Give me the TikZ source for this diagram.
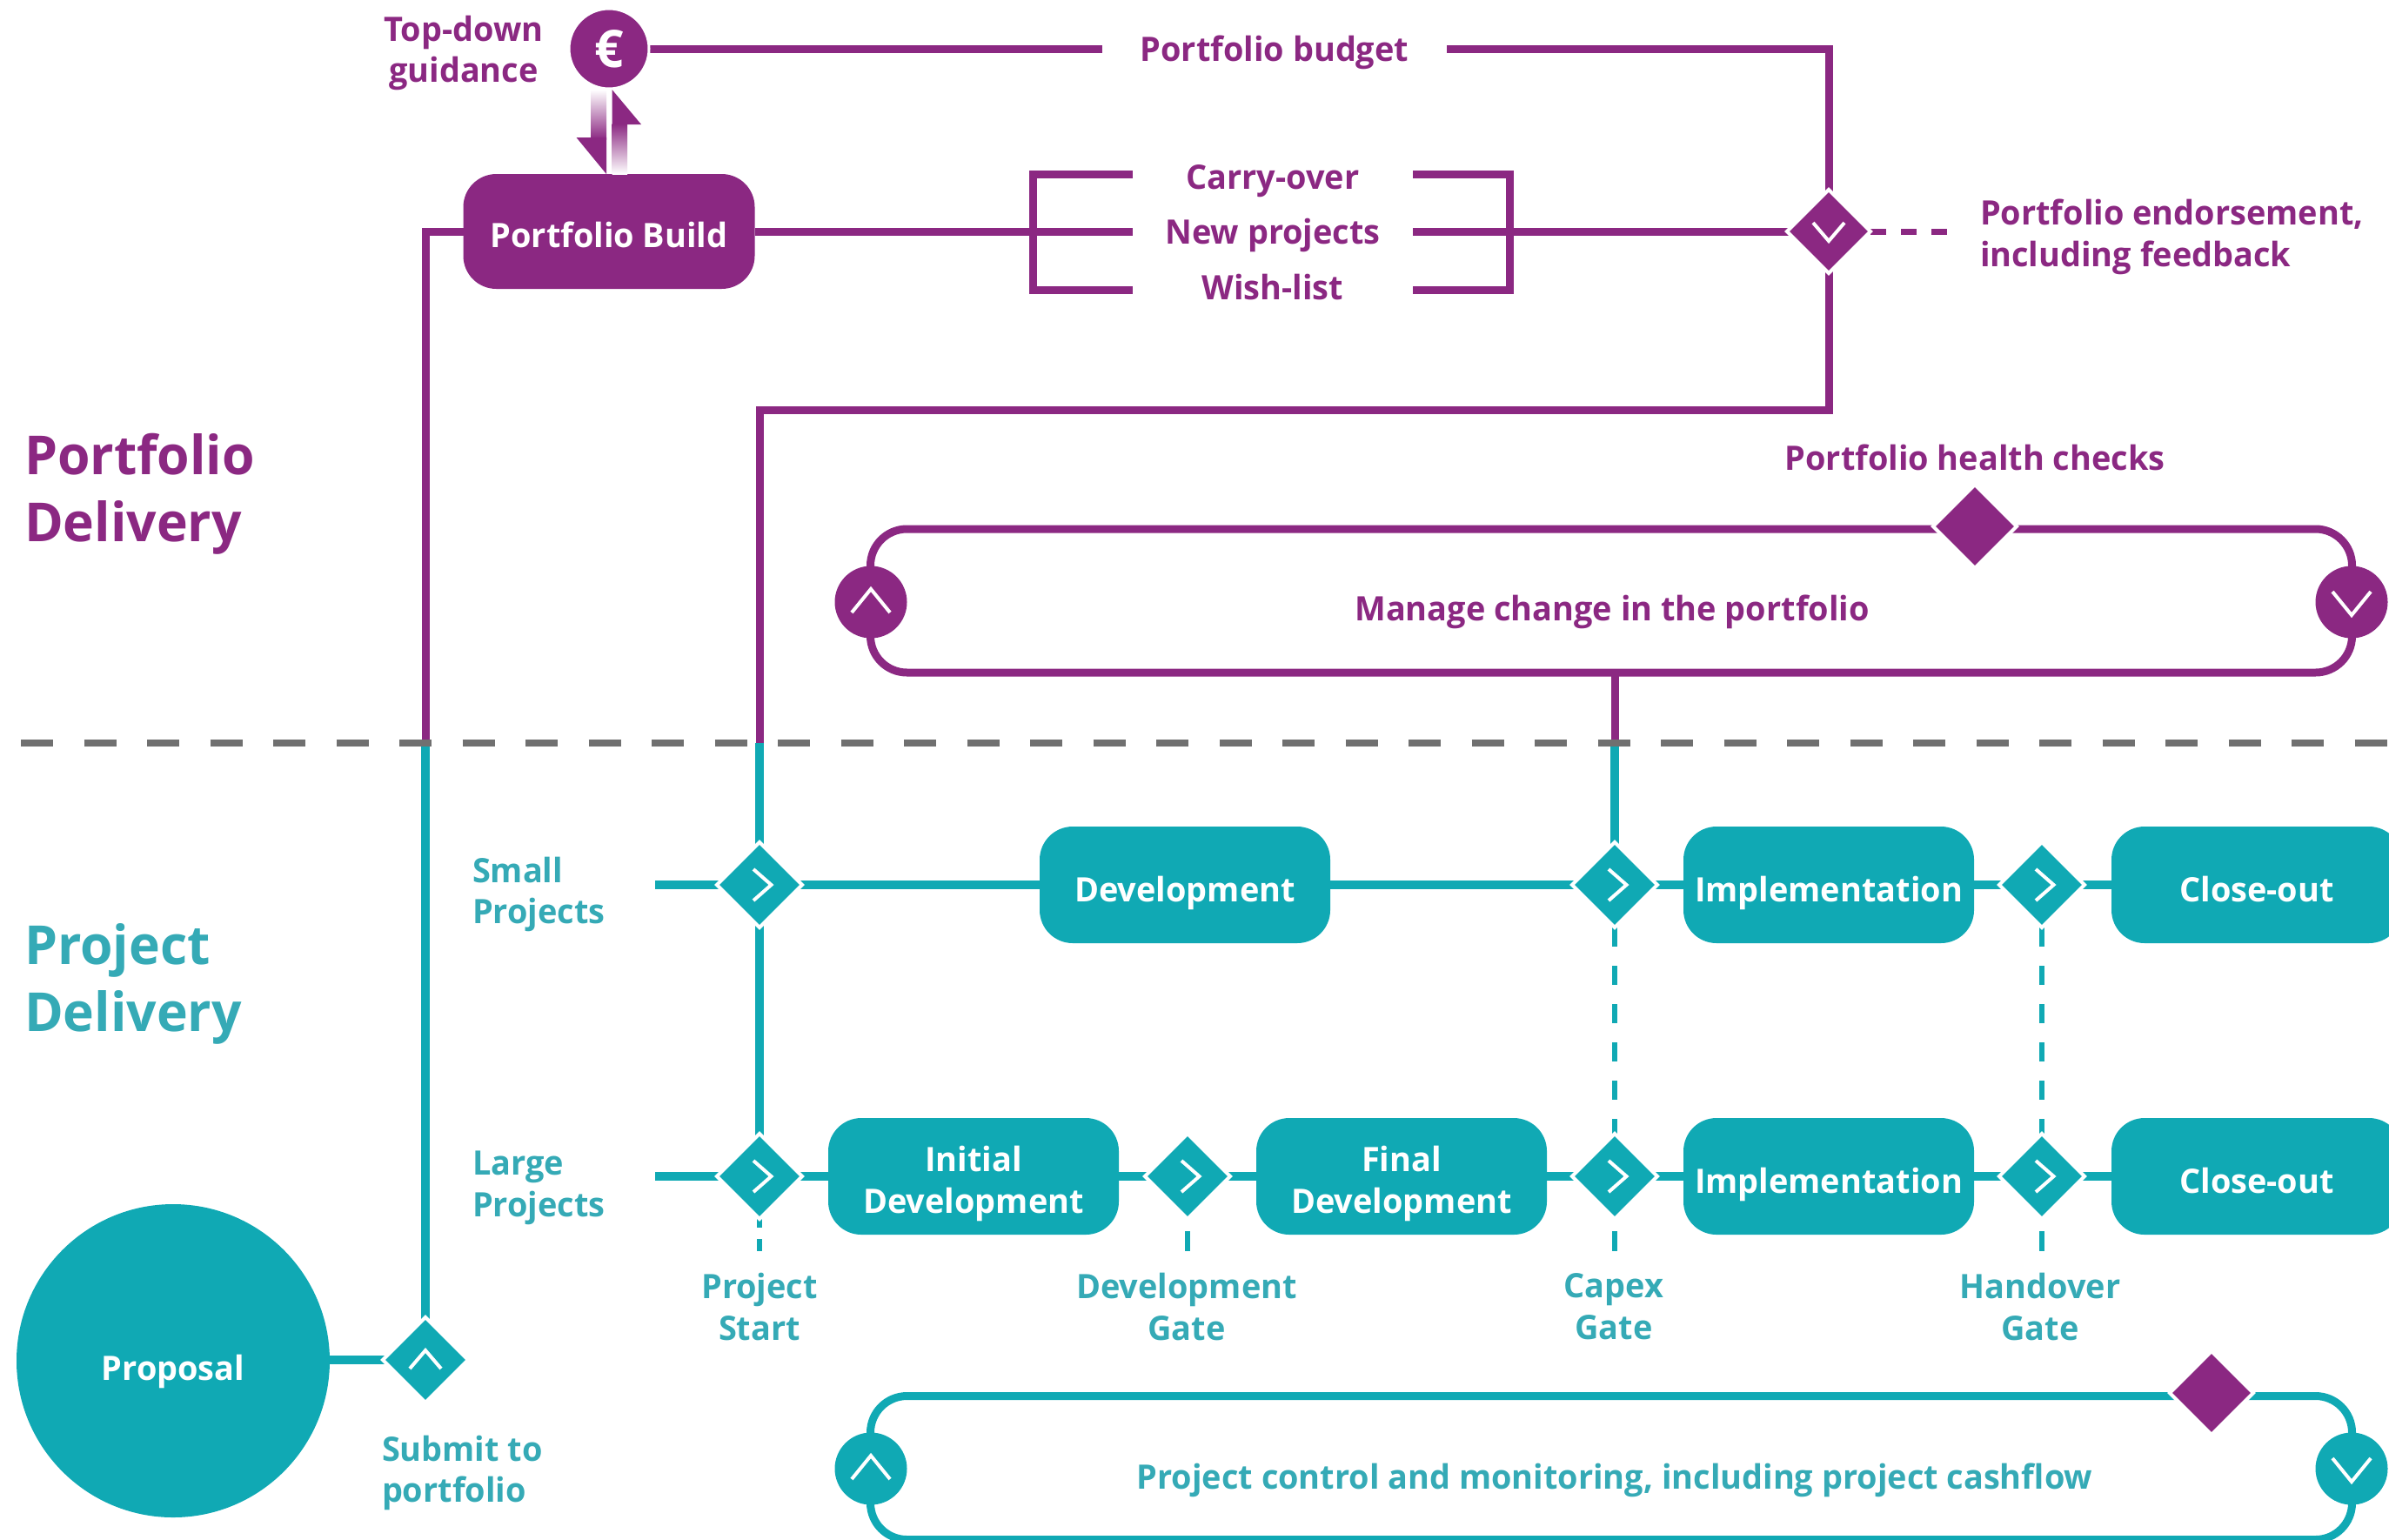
\documentclass[tikz,border=0pt]{standalone}
\usepackage{fontspec}
\setmainfont{Open Sans}[FakeStretch=0.98]
\usetikzlibrary{shapes.geometric,backgrounds}

\definecolor{portpurple}{HTML}{8B2882}
\definecolor{projteal}{HTML}{10A9B4}
\definecolor{textteal}{HTML}{35AAB6}
\definecolor{splitgrey}{HTML}{707070}

\newcommand{\lblfont}{\fontsize{11}{13.6}\selectfont\bfseries}
\newcommand{\titlefont}{\fontsize{17.6}{22}\selectfont\bfseries}

\tikzset{
  every node/.style={inner sep=0pt,outer sep=0pt},
  purpleline/.style={draw=portpurple,line width=0.09cm},
  tealline/.style={draw=projteal,line width=0.095cm},
  gatedash/.style={draw=projteal,line width=0.06cm,dash pattern=on 0.22cm off 0.22cm},
  gatestub/.style={draw=projteal,line width=0.06cm,shorten <=0.14cm},
  stagebox/.style={fill=projteal,text=white,font=\lblfont,align=center,rounded corners=0.38cm,
    minimum width=3.34cm,minimum height=1.34cm,text height=0.38cm,text depth=0pt},
  twostage/.style={stagebox,text height=0.84cm},
  gatediamond/.style={diamond,aspect=1,fill=projteal,draw=white,line width=0.04cm,minimum width=0.98cm,minimum height=0.98cm},
  purplediamond/.style={gatediamond,fill=portpurple,minimum width=0.96cm,minimum height=0.96cm},
  purplecircle/.style={circle,fill=portpurple,minimum size=0.83cm},
  tealcircle/.style={circle,fill=projteal,minimum size=0.83cm},
  chevronline/.style={draw=white,line width=0.04cm},
  purplelabel/.style={text=portpurple,font=\lblfont,align=center},
  teallabel/.style={text=textteal,font=\lblfont,align=center},
  leftlabel/.style={align=left,anchor=west},
  gaplabel/.style={purplelabel,text height=0.29cm,text depth=0pt},
  loopbox/.style={rounded corners=0.42cm,line width=0.09cm,minimum width=17.03cm,minimum height=1.65cm},
}

\begin{document}
\begin{tikzpicture}[x=1cm,y=-1cm]
  \useasboundingbox (0,0) rectangle (27.46,17.69);

  % portfolio side
  \node[circle,fill=portpurple,draw=white,line width=0.03cm,minimum size=0.92cm,text=white,font=\fontsize{17}{17}\selectfont\bfseries] (euro) at (7.00,0.56) {€};
  \node[purplelabel] (topdown) at (5.33,0.61) {Top-down\\guidance};
  \node[fill=portpurple,text=white,font=\lblfont,rounded corners=0.38cm,minimum width=3.35cm,minimum height=1.32cm,text height=0.36cm,text depth=0pt] (portbuild) at (7.00,2.66) {Portfolio Build};
  \node[gaplabel,minimum width=3.96cm] (budget) at (14.65,0.56) {Portfolio budget};
  \node[gaplabel,minimum width=3.22cm,text height=0.34cm] (carryover) at (14.63,2.00) {Carry-over};
  \node[gaplabel,minimum width=3.22cm] (newprojects) at (14.63,2.66) {New projects};
  \node[gaplabel,minimum width=3.22cm,text height=0.23cm] (wishlist) at (14.63,3.33) {Wish-list};
  \node[purplediamond] (endorse) at (21.02,2.66) {};
  \node[purplelabel,leftlabel] (endorsetext) at (22.76,2.72) {Portfolio endorsement,\\including feedback};
  \coordinate (endorseend) at (22.40,2.66);
  \coordinate (bracketl) at (11.87,2.66);
  \coordinate (bracketr) at (17.35,2.66);
  \coordinate (turnlow) at (8.73,4.71);

  \node[purplelabel,leftlabel,font=\titlefont] (titleport) at (0.28,5.68) {Portfolio\\Delivery};
  \node[purplelabel] (healthtext) at (22.70,5.26) {Portfolio health checks};
  \node[loopbox,draw=portpurple] (manage) at (18.52,6.905) {};
  \node[purplelabel] (managetext) at (18.53,7.03) {Manage change in the portfolio};
  \node[purplediamond] (health) at (22.70,6.05) {};
  \node[purplecircle] (manageup) at (10.01,6.92) {};
  \node[purplecircle] (managedown) at (27.03,6.92) {};

  % split
  \coordinate (splitl) at (0.24,8.54);
  \coordinate (splitr) at (27.46,8.54);
  \coordinate (crossa) at (4.89,8.54);
  \coordinate (crossb) at (8.73,8.54);
  \coordinate (crossc) at (18.56,8.54);

  % project side
  \node[teallabel,leftlabel,font=\titlefont] (titleproj) at (0.28,11.31) {Project\\Delivery};
  \node[teallabel,leftlabel] (smalltext) at (5.43,10.28) {Small\\Projects};
  \node[teallabel,leftlabel] (largetext) at (5.43,13.65) {Large\\Projects};
  \coordinate (smallstart) at (7.53,10.17);
  \coordinate (largestart) at (7.53,13.52);

  \node[gatediamond] (startsmall) at (8.73,10.17) {};
  \node[gatediamond] (startlarge) at (8.73,13.52) {};
  \node[gatediamond] (devgate) at (13.65,13.52) {};
  \node[gatediamond] (capexsmall) at (18.56,10.17) {};
  \node[gatediamond] (capexlarge) at (18.56,13.52) {};
  \node[gatediamond] (handsmall) at (23.47,10.17) {};
  \node[gatediamond] (handlarge) at (23.47,13.52) {};

  \node[stagebox] (devbox) at (13.62,10.17) {Development};
  \node[stagebox] (implsmall) at (21.02,10.17) {Implementation};
  \node[stagebox] (closesmall) at (25.94,10.17) {Close-out};
  \node[twostage] (initdev) at (11.19,13.52) {Initial\\Development};
  \node[twostage] (finaldev) at (16.11,13.52) {Final\\Development};
  \node[stagebox] (impllarge) at (21.02,13.52) {Implementation};
  \node[stagebox] (closelarge) at (25.94,13.52) {Close-out};

  \node[teallabel] (starttext) at (8.73,15.02) {Project\\Start};
  \node[teallabel] (devtext) at (13.64,15.02) {Development\\Gate};
  \node[teallabel] (capextext) at (18.55,15.02) {Capex\\Gate};
  \node[teallabel] (handtext) at (23.45,15.02) {Handover\\Gate};
  \coordinate (startend) at (8.73,14.38);
  \coordinate (devend) at (13.65,14.38);
  \coordinate (capexend) at (18.56,14.38);
  \coordinate (handend) at (23.47,14.38);

  \node[circle,fill=projteal,minimum size=3.6cm,text=white,font=\lblfont,text height=0.44cm,text depth=0pt] (proposal) at (1.99,15.64) {Proposal};
  \node[gatediamond] (submit) at (4.89,15.63) {};
  \node[teallabel,leftlabel] (submittext) at (4.39,16.93) {Submit to\\portfolio};

  \node[loopbox,draw=projteal] (control) at (18.52,16.87) {};
  \node[teallabel] (controltext) at (18.56,17.01) {Project control and monitoring, including project cashflow};
  \node[purplediamond] (monitor) at (25.42,16.01) {};
  \node[tealcircle] (controlup) at (10.01,16.88) {};
  \node[tealcircle] (controldown) at (27.03,16.88) {};

  % connectors go under the diamonds
  \begin{scope}[on background layer]
    \draw[purpleline] (euro) -- (budget);
    \draw[purpleline] (budget) -| (endorse.center);
    \draw[purpleline] (portbuild) -- (newprojects);
    \draw[purpleline] (carryover.west) -| (bracketl) |- (wishlist.west);
    \draw[purpleline] (carryover.east) -| (bracketr) |- (wishlist.east);
    \draw[purpleline] (newprojects) -- (endorse.center);
    \draw[purpleline,line width=0.07cm,dash pattern=on 0.18cm off 0.17cm] (endorse.east) -- (endorseend);
    \draw[purpleline] (endorse.center) |- (turnlow) -- (crossb);
    \draw[purpleline] (portbuild.west) -| (crossa);
    \draw[purpleline] (manage.south -| crossc) -- (crossc);

    \draw[tealline] (proposal.east |- submit) -- (submit.center);
    \draw[tealline] (submit.center) -- (crossa);
    \draw[tealline] (crossb) -- (startlarge.center);
    \draw[tealline] (crossc) -- (capexsmall.center);
    \draw[tealline] (smallstart) -- (closesmall);
    \draw[tealline] (largestart) -- (closelarge);
    \draw[gatedash] (capexsmall.south) -- (capexlarge.center);
    \draw[gatedash] (handsmall.south) -- (handlarge.center);
    \draw[draw=projteal,line width=0.06cm,dash pattern=on 0.10cm off 0.13cm on 0.14cm off 1cm] (startlarge.south) -- (startend);
    \draw[gatestub] (devgate.south) -- (devend);
    \draw[gatestub] (capexlarge.south) -- (capexend);
    \draw[gatestub] (handlarge.south) -- (handend);

    \draw[draw=splitgrey,line width=0.085cm,dash pattern=on 0.37cm off 0.355cm] (splitl) -- (splitr);
  \end{scope}

  % guidance arrows
  \shade[top color=white,bottom color=portpurple] (6.79,1.03) rectangle (6.97,1.60);
  \fill[portpurple] (6.625,1.58) -- (6.97,1.58) -- (6.97,2.00) -- cycle;
  \shade[top color=portpurple,bottom color=white] (7.035,1.42) rectangle (7.21,2.00);
  \fill[portpurple] (7.035,1.03) -- (7.37,1.43) -- (7.035,1.43) -- cycle;

  % chevrons
  \foreach \g in {startsmall,startlarge,devgate,capexsmall,capexlarge,handsmall,handlarge}
    \draw[chevronline] ([shift={(-0.07,-0.18)}]\g.center) -- ([shift={(0.135,0)}]\g.center) -- ([shift={(-0.07,0.18)}]\g.center);
  \draw[chevronline] ([shift={(-0.18,-0.10)}]endorse.center) -- ([shift={(0,0.11)}]endorse.center) -- ([shift={(0.18,-0.10)}]endorse.center);
  \draw[chevronline] ([shift={(-0.18,0.10)}]submit.center) -- ([shift={(0,-0.11)}]submit.center) -- ([shift={(0.18,0.10)}]submit.center);
  \foreach \g in {manageup,controlup}
    \draw[chevronline] ([shift={(-0.22,0.12)}]\g.center) -- ([shift={(0,-0.15)}]\g.center) -- ([shift={(0.22,0.12)}]\g.center);
  \foreach \g in {managedown,controldown}
    \draw[chevronline] ([shift={(-0.22,-0.12)}]\g.center) -- ([shift={(0,0.15)}]\g.center) -- ([shift={(0.22,-0.12)}]\g.center);
\end{tikzpicture}
\end{document}
